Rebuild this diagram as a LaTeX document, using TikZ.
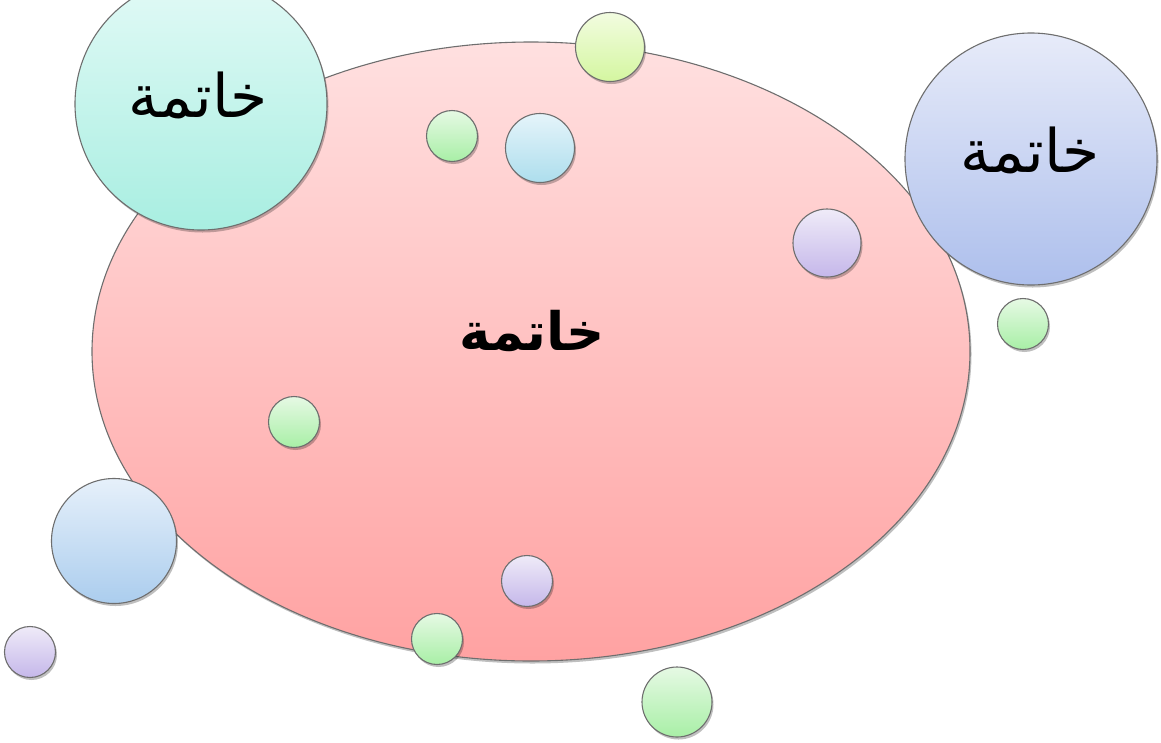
\documentclass[tikz,border=0pt]{standalone}
\usepackage{fontspec}
\newfontfamily\arabicfont[Script=Arabic]{DejaVu Sans}
\TeXXeTstate=1
\usetikzlibrary{shadows,shapes.geometric}
\definecolor{edge}{HTML}{6E6E6E}
\definecolor{pinkT}{HTML}{FFE0E0}\definecolor{pinkB}{HTML}{FFA2A2}
\definecolor{tealT}{HTML}{E2FAF6}\definecolor{tealB}{HTML}{A8EEE1}
\definecolor{periT}{HTML}{E7EBF9}\definecolor{periB}{HTML}{ADBFEC}
\definecolor{limeT}{HTML}{F2FCE0}\definecolor{limeB}{HTML}{D4F6A0}
\definecolor{grnT}{HTML}{E6F9E4}\definecolor{grnB}{HTML}{A8EFA6}
\definecolor{skyT}{HTML}{E5F4FA}\definecolor{skyB}{HTML}{ADDEED}
\definecolor{purT}{HTML}{EFEBF8}\definecolor{purB}{HTML}{C5B7EA}
\definecolor{blueT}{HTML}{E6F0FA}\definecolor{blueB}{HTML}{ABCDEE}
\tikzset{
  bubble/.style={circle, draw=edge, line width=1.1pt, inner sep=0pt,
    drop shadow={shadow xshift=1.5pt, shadow yshift=-2.5pt, opacity=0.25, fill=black}},
  grad/.style 2 args={top color=#1, bottom color=#2},
  lbl/.style={font=\arabicfont\fontsize{60}{72}\selectfont, text=black},
}
\begin{document}
\begin{tikzpicture}[x=1pt,y=-1pt]
\useasboundingbox (0,0) rectangle (1161,742);
\clip (0,0) rectangle (1161,742);
\node[ellipse, draw=edge, line width=1.1pt, minimum width=878pt, minimum height=619pt,
  grad={pinkT}{pinkB},
  drop shadow={shadow xshift=1.5pt, shadow yshift=-2.5pt, opacity=0.25, fill=black}]
  (main) at (531,351.5) {};
\node[lbl, font=\arabicfont\bfseries\fontsize{53}{64}\selectfont] (mainlbl) at (532,331) {\beginR خاتمة\endR};
\node[bubble, minimum size=252pt, grad={tealT}{tealB}] (tl) at (201,104) {};
\node[lbl] (tllbl) at (198,95) {\beginR خاتمة\endR};
\node[bubble, minimum size=252pt, grad={periT}{periB}] (tr) at (1031,159) {};
\node[lbl] (trlbl) at (1030,150) {\beginR خاتمة\endR};
\node[bubble, minimum size=69pt, grad={limeT}{limeB}] (b1) at (610,47) {};
\node[bubble, minimum size=51pt, grad={grnT}{grnB}] (b2) at (452,136) {};
\node[bubble, minimum size=69pt, grad={skyT}{skyB}] (b3) at (540,148) {};
\node[bubble, minimum size=68pt, grad={purT}{purB}] (b4) at (827,243) {};
\node[bubble, minimum size=51pt, grad={grnT}{grnB}] (b5) at (1023,324) {};
\node[bubble, minimum size=51pt, grad={grnT}{grnB}] (b6) at (294,422) {};
\node[bubble, minimum size=125pt, grad={blueT}{blueB}] (b7) at (114,541) {};
\node[bubble, minimum size=51pt, grad={purT}{purB}] (b8) at (527,581) {};
\node[bubble, minimum size=51pt, grad={grnT}{grnB}] (b9) at (437,639) {};
\node[bubble, minimum size=51pt, grad={purT}{purB}] (b10) at (30,652) {};
\node[bubble, minimum size=70pt, grad={grnT}{grnB}] (b11) at (677,702) {};
\end{tikzpicture}
\end{document}
